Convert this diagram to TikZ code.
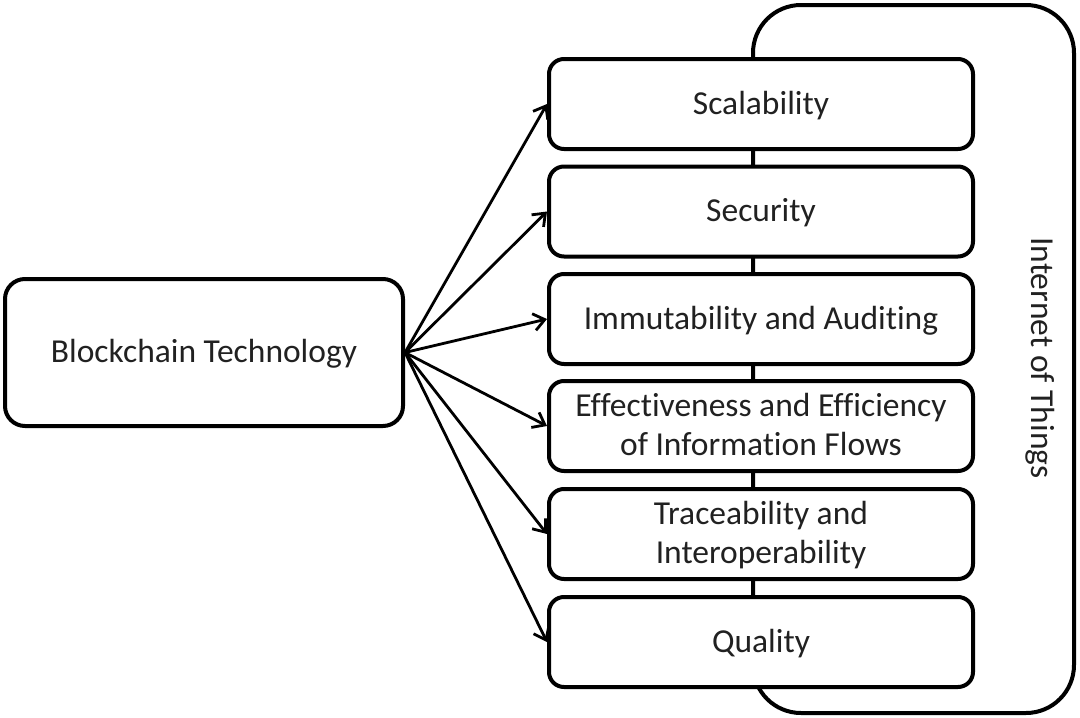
\documentclass[tikz,border=0pt]{standalone}
\usepackage{fontspec}
\setmainfont[Ligatures=NoCommon]{Carlito}
\usetikzlibrary{arrows.meta}
\definecolor{txtgray}{rgb}{0.13,0.13,0.13}

\begin{document}
\begin{tikzpicture}[line cap=round,line join=round,>={Straight Barb[length=11pt,width=17pt]},x=1pt,y=-1pt,
	box/.style={draw,fill=white,line width=4pt,rounded corners=15pt,minimum width=424pt,minimum height=90pt,inner sep=0pt,align=center,text=txtgray,font=\fontsize{33.5}{39}\selectfont,text depth=3pt},
	link/.style={->,line width=2.8pt}]
	\useasboundingbox (0,0) rectangle (1080,718);
	% Internet of Things frame
	\node[draw,line width=4pt,rounded corners=48pt,minimum width=321pt,minimum height=708pt,inner sep=0pt] (iot) at (913.5,359) {};
	\node[rotate=-90,text=txtgray,font=\fontsize{33.5}{39}\selectfont] (iotlabel) at (1040,358) {Internet of Things};
	% blockchain
	\node[box,rounded corners=20pt,minimum width=398pt,minimum height=147pt] (bc) at (204,352.5) {Blockchain Technology};
	% properties
	\node[box] (sca) at (761,104) {Scalability};
	\node[box] (sec) at (761,211.5) {Security};
	\node[box] (imm) at (761,319) {Immutability and Auditing};
	\node[box] (eff) at (761,426) {Effectiveness and Efficiency\\of Information Flows};
	\node[box] (tra) at (761,534) {Traceability and\\Interoperability};
	\node[box] (qua) at (761,642) {Quality};
	% arrows
	\draw[link] (bc.east) -- (sca.west);
	\draw[link] (bc.east) -- (sec.west);
	\draw[link] (bc.east) -- (imm.west);
	\draw[link] (bc.east) -- (eff.west);
	\draw[link] (bc.east) -- (tra.west);
	\draw[link] (bc.east) -- (qua.west);
\end{tikzpicture}
\end{document}
